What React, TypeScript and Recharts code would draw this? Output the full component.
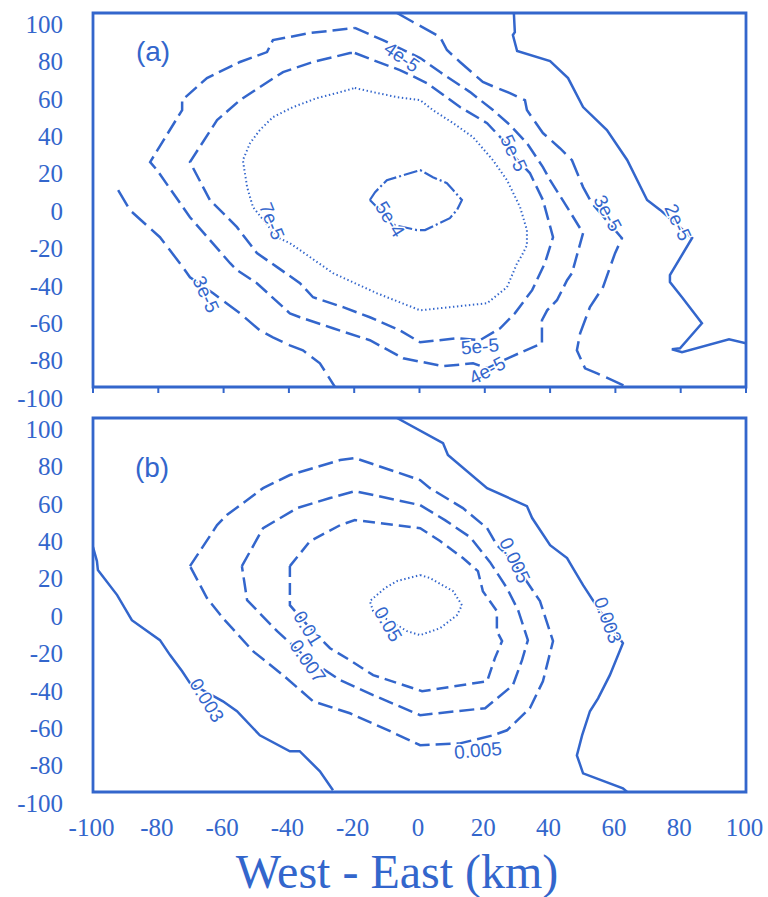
import React from 'react';
import { ComposedChart, Line, XAxis, YAxis, Scatter, ReferenceArea } from 'recharts';

// ---------- axis ticks ----------
const xTicks = [-100, -80, -60, -40, -20, 0, 20, 40, 60, 80, 100];
const yTicks = [-100, -80, -60, -40, -20, 0, 20, 40, 60, 80, 100];

// ---------- panel (a) contours (x km, y km) ----------
const a_2e5 = [[28.9,100],[29.2,89.8],[28.6,88.2],[29.9,79.7],[40,74.3],[45.5,65.2],[50.1,49.7],[57.4,37.4],[63.6,21.4],[69.7,0],[73.7,-5.3],[83.5,-20.3],[76.7,-40.2],[76.7,-43.9],[80.4,-52],[86.5,-65.9],[79.8,-79.3],[77.3,-79.8],[80.4,-81.4],[94.8,-74.5],[100,-76.6]];
const a_3e5_west = [[-92.3,5.3],[-88.7,-5.4],[-79.5,-19.9],[-73.4,-33.8],[-70.3,-41.3],[-63.2,-49.9],[-55,-60.6],[-48.9,-69.7],[-44.9,-73.4],[-39.7,-77.7],[-35.7,-80.4],[-30.5,-87.3],[-25.9,-100]];
const a_3e5_east = [[-6.9,100],[-2,95.2],[6.3,87.2],[8.4,80.2],[12.4,73.8],[19.4,63.1],[23.7,59.9],[27.7,57.2],[32.3,53.4],[32.9,48.1],[37.8,35.8],[43,27.7],[46.7,21.3],[50.1,6.9],[52.8,-1.7],[62,-20.4],[59.9,-28.4],[56.2,-46.6],[52.2,-57.3],[49.2,-71.3],[48.2,-80.4],[50.7,-90],[54.4,-92.7],[63.6,-100]];
const a_4e5 = [[-19.8,92],[-11.2,85.5],[0.2,75.9],[6.3,68.4],[15.5,57.7],[22.5,48.1],[27.7,40.1],[32.9,30.4],[37.8,17.6],[40,10.6],[45.2,-3.8],[50.1,-17.7],[46.7,-39.1],[45.2,-42.9],[42.1,-53.6],[39.1,-59],[37.5,-64.3],[37.5,-76.6],[27.7,-84.1],[20.7,-90],[16.4,-87.3],[7.2,-88.9],[-5,-84.6],[-15.2,-75],[-26.5,-68.6],[-36.6,-62.7],[-39.7,-60.6],[-49.8,-44.5],[-55.9,-37.5],[-58,-33.8],[-70.3,-9.2],[-80.4,16],[-82.5,20.3],[-72.7,48.1],[-72.7,53.4],[-65.1,65.2],[-55,73.8],[-46.7,79.1],[-44.9,85.5],[-33.5,89.3],[-19.8,92]];
const a_5e5 = [[-19.8,78.6],[-14.2,74.8],[-6,69.5],[2.3,62.5],[12.4,49.7],[20.7,41.1],[25.6,32],[28.6,24],[33.8,14.4],[37.8,0],[40.9,-19.9],[38.4,-33.8],[34.5,-48.2],[29.2,-60.6],[24.7,-68.6],[18.5,-75],[11.5,-73.9],[0.2,-76.1],[-6,-69.7],[-15.2,-62.7],[-23.4,-57.3],[-32.6,-52],[-36.6,-44.5],[-43.6,-35.9],[-49.8,-28.4],[-55.9,-14.5],[-64.2,0],[-70.3,20.3],[-62,42.7],[-55,53.4],[-48.9,60.4],[-41.8,68.4],[-32.6,73.8],[-21.3,78.6],[-19.8,78.6]];
const a_7e5 = [[-19.8,59.9],[-14.2,57.7],[-6.9,55],[0.2,53.4],[4.1,48.1],[10.3,41.1],[16.4,33.6],[22.5,21.3],[26.8,10.6],[30.8,-3.8],[32.9,-16.1],[32.9,-24.2],[31.4,-29.5],[29.9,-33.8],[26.8,-46.6],[20.7,-55.2],[9.3,-57.3],[0.2,-59],[-13,-49.9],[-26.5,-39.1],[-36.6,-26.8],[-39.7,-23.1],[-43.6,-19.9],[-51,-3.8],[-52.8,6.9],[-54.1,21.3],[-51.9,30.4],[-48.9,37.4],[-44.9,44.3],[-38.7,49.7],[-31.4,54.5],[-25.3,57.2],[-19.8,59.9]];
const a_5e4 = [[-15.2,0],[-13.6,4.2],[-10,10.6],[-6.9,12.2],[0.2,16],[4.1,12.2],[8.4,9],[10.3,5.3],[13,0],[11.5,-5.3],[9.3,-9.7],[1.7,-16.1],[-0.8,-16.1],[-7.5,-13.5],[-15.2,0]];

// ---------- panel (b) contours ----------
const b_003_west = [[-100,31],[-98.8,23.5],[-98.5,18.7],[-92.6,5.3],[-88.1,-8.1],[-79.5,-18.8],[-76.4,-26.8],[-72.7,-35.4],[-70.3,-41.8],[-60.2,-51.5],[-55.9,-56.8],[-48.9,-69.7],[-39.7,-78.2],[-36.7,-78.2],[-30.5,-88.9],[-26.5,-99.1]];
const b_003_east = [[-6.9,100],[7.2,86.6],[8.7,80.2],[20.7,62.5],[32.9,52.9],[34.5,46.5],[40,32],[45.2,25.1],[47,19.7],[50.1,10.6],[55.3,-3.3],[62.3,-20.4],[58.3,-37.5],[54.7,-49.9],[52.2,-56.8],[49.8,-69.7],[48.2,-80.4],[50.1,-90],[62.3,-98],[63.6,-100]];
const b_005 = [[-70.3,20.8],[-62,42.7],[-59,48.1],[-47.9,62.5],[-39.7,69.5],[-24.3,77.5],[-19.8,78.6],[0.2,66.8],[3.2,62.5],[13.3,51.8],[20.7,41.1],[23.7,32],[28.6,23.5],[36.9,2.1],[40.9,-19.3],[37.8,-40.8],[33.8,-55.2],[26.8,-67],[22.5,-69.7],[12.4,-74],[0.2,-75],[-9,-67.5],[-21.3,-57.9],[-32.6,-51.5],[-41.8,-37.5],[-51,-24.7],[-60.2,-7],[-65.1,3.7],[-70.3,20.8]];
const b_007 = [[-54.4,20.8],[-47.9,41.1],[-37.5,51.8],[-27.4,57.2],[-19.8,60.9],[0.2,53.4],[7.8,45.4],[15.5,36.3],[21.6,22.9],[26.8,9],[30.2,-2.8],[33.2,-18.8],[31.4,-29.5],[28.6,-42.9],[20.1,-55.2],[0.2,-58.9],[-14.2,-48.2],[-24.3,-40.2],[-34.5,-28.4],[-43.6,-14],[-52.8,2.6],[-54.4,20.8]];
const b_01 = [[-39.7,20.8],[-33.5,34.2],[-24.3,42.7],[-19.8,45.4],[0.2,41.1],[6.3,34.2],[13.3,25.1],[17.9,18.1],[19.4,7.4],[23.7,-3.3],[23.7,-14],[25.3,-19.3],[23.1,-28.4],[20.7,-40.8],[0.8,-46.1],[-14.2,-37.5],[-21.3,-29.5],[-27.4,-23.1],[-33.5,-12.4],[-39.7,-0.1],[-39.7,20.8]];
const b_05 = [[0.2,16],[3.2,14.4],[10.3,7.4],[13,-0.1],[11.5,-5.4],[6.3,-12.4],[0.2,-16.1],[-3.8,-14],[-14.2,-3.3],[-15.2,2.1],[-10.6,9],[-6.9,12.8],[0.2,16]];

// ---------- contour labels ----------
const labelTextA = ['4e-5', '5e-5', '3e-5', '2e-5', '7e-5', '5e-4', '3e-5', '5e-5', '4e-5'];
const labelXA = [-5.4, 28.9, 57.7, 79.2, -45.2, -9, -65.4, 18.5, 20.7];
const labelYA = [76.5, 25.1, -7, -11.9, -11.3, -10.2, -50.4, -78.2, -91.1];
const labelAngleA = [35, 65, 62, 65, 68, 58, 65, -5, -28];

const labelTextB = ['0.005', '0.003', '0.003', '0.01', '0.007', '0.05', '0.005'];
const labelXB = [29.2, 57.7, -65.1, -34.2, -34.2, -9.6, 17.9];
const labelYB = [24, -8.1, -50.9, -12.4, -30, -10.2, -77.7];
const labelAngleB = [65, 70, 58, 58, 55, 60, -5];

const panelNames = ['(a)', '(b)'];
const panelNameX = [-81.6, -81.9];
const panelNameY = [79.7, 73.8];

const axisTitle = 'West - East (km)';

// ---------- styles ----------
const BLUE = '#3366cc';
const SERIF = '"Liberation Serif", "Times New Roman", serif';
const SANS = '"Liberation Sans", Arial, sans-serif';

const toPts = (a: number[][]) => a.map(([x, y]) => ({ x, y }));
const toLabels = (t: string[], xs: number[], ys: number[], ang: number[]) =>
  t.map((s, i) => ({ x: xs[i], y: ys[i], t: s, a: ang[i] }));

const YTick = (props: any) => {
  const { x, y, payload } = props;
  return (
    <text x={x - 30} y={y + 11} dy="0.35em" textAnchor="end" fill={BLUE} fontSize={25} fontFamily={SERIF}>
      {payload.value}
    </text>
  );
};
const XTick = (props: any) => {
  const { x, y, payload } = props;
  return (
    <text x={x - 1.5} y={y + 35} dy="0.35em" textAnchor="middle" fill={BLUE} fontSize={25} fontFamily={SERIF}>
      {payload.value}
    </text>
  );
};
const NoTick = () => <g />;

const LabelShape = (props: any) => {
  const { cx, cy, payload } = props;
  return (
    <text
      x={cx}
      y={cy}
      dy="0.35em"
      textAnchor="middle"
      transform={`rotate(${payload.a} ${cx} ${cy})`}
      fill={BLUE}
      fontSize={19}
      fontFamily={SANS}
      stroke="#ffffff"
      strokeWidth={3}
      paintOrder="stroke"
    >
      {payload.t}
    </text>
  );
};
const TitleShape = (props: any) => {
  const { cx, cy, payload } = props;
  return (
    <text x={cx} y={cy} dy="0.35em" textAnchor="middle" fill={BLUE} fontSize={28} fontFamily={SANS}>
      {payload.t}
    </text>
  );
};

type Series = { d: number[][]; dash?: string; w?: number };

const seriesA: Series[] = [
  { d: a_2e5, w: 2.5 },
  { d: a_3e5_west, dash: '19 7', w: 2.5 },
  { d: a_3e5_east, dash: '19 7', w: 2.5 },
  { d: a_4e5, dash: '15 6', w: 2.5 },
  { d: a_5e5, dash: '15 6', w: 2.5 },
  { d: a_7e5, dash: '1.4 2.6', w: 2 },
  { d: a_5e4, dash: '14 3 2 3', w: 2.2 },
];
const seriesB: Series[] = [
  { d: b_003_west, w: 2.5 },
  { d: b_003_east, w: 2.5 },
  { d: b_005, dash: '15 6', w: 2.5 },
  { d: b_007, dash: '15 6', w: 2.5 },
  { d: b_01, dash: '12 6', w: 2.5 },
  { d: b_05, dash: '1.4 2.6', w: 2 },
];

function Panel(props: {
  top: number;
  height: number;
  topMargin: number;
  bottomMargin: number;
  xAxisHeight: number;
  series: Series[];
  labels: any[];
  name: any[];
  showXLabels: boolean;
}) {
  const { top, height, topMargin, bottomMargin, xAxisHeight, series, labels, name, showXLabels } = props;
  return (
    <div style={{ position: 'absolute', left: 0, top }}>
      <ComposedChart width={768} height={height} margin={{ top: topMargin, right: 22, bottom: bottomMargin, left: 0 }}>
        <XAxis
          type="number"
          dataKey="x"
          domain={[-100, 100]}
          ticks={xTicks}
          allowDataOverflow
          axisLine={false}
          height={xAxisHeight}
          tickLine={showXLabels ? false : { stroke: BLUE, strokeWidth: 2 }}
          tickSize={showXLabels ? 0 : 6}
          tickMargin={0}
          tick={showXLabels ? XTick : NoTick}
          interval={0}
        />
        <YAxis
          type="number"
          dataKey="y"
          domain={[-100, 100]}
          ticks={yTicks}
          allowDataOverflow
          width={93}
          axisLine={false}
          tickLine={false}
          tickSize={0}
          tickMargin={0}
          tick={YTick}
          interval={0}
        />
        {series.map((s, i) => (
          <Line
            key={i}
            data={toPts(s.d)}
            dataKey="y"
            type="linear"
            stroke={BLUE}
            strokeWidth={s.w ?? 2.5}
            strokeDasharray={s.dash}
            dot={false}
            activeDot={false}
            isAnimationActive={false}
          />
        ))}
        <ReferenceArea x1={-100} x2={100} y1={-100} y2={100} fill="none" fillOpacity={0} stroke={BLUE} strokeWidth={2.8} />
        <Scatter data={labels} shape={LabelShape} isAnimationActive={false} />
        <Scatter data={name} shape={TitleShape} isAnimationActive={false} />
      </ComposedChart>
    </div>
  );
}

export default function App() {
  const labelsA = toLabels(labelTextA, labelXA, labelYA, labelAngleA);
  const labelsB = toLabels(labelTextB, labelXB, labelYB, labelAngleB);
  const nameA = [{ x: panelNameX[0], y: panelNameY[0], t: panelNames[0] }];
  const nameB = [{ x: panelNameX[1], y: panelNameY[1], t: panelNames[1] }];
  return (
    <div style={{ position: 'absolute', left: 0, top: 0, width: 768, height: 897, background: '#ffffff' }}>
      <Panel top={0} height={412} topMargin={13} bottomMargin={17} xAxisHeight={8} series={seriesA} labels={labelsA} name={nameA} showXLabels={false} />
      <Panel top={412} height={433} topMargin={6} bottomMargin={13} xAxisHeight={40} series={seriesB} labels={labelsB} name={nameB} showXLabels={true} />
      <svg width={768} height={60} style={{ position: 'absolute', left: 0, top: 837 }}>
        <text x={397} y={51} textAnchor="middle" fill={BLUE} fontSize={48} fontFamily={SERIF}>
          {axisTitle}
        </text>
      </svg>
    </div>
  );
}
